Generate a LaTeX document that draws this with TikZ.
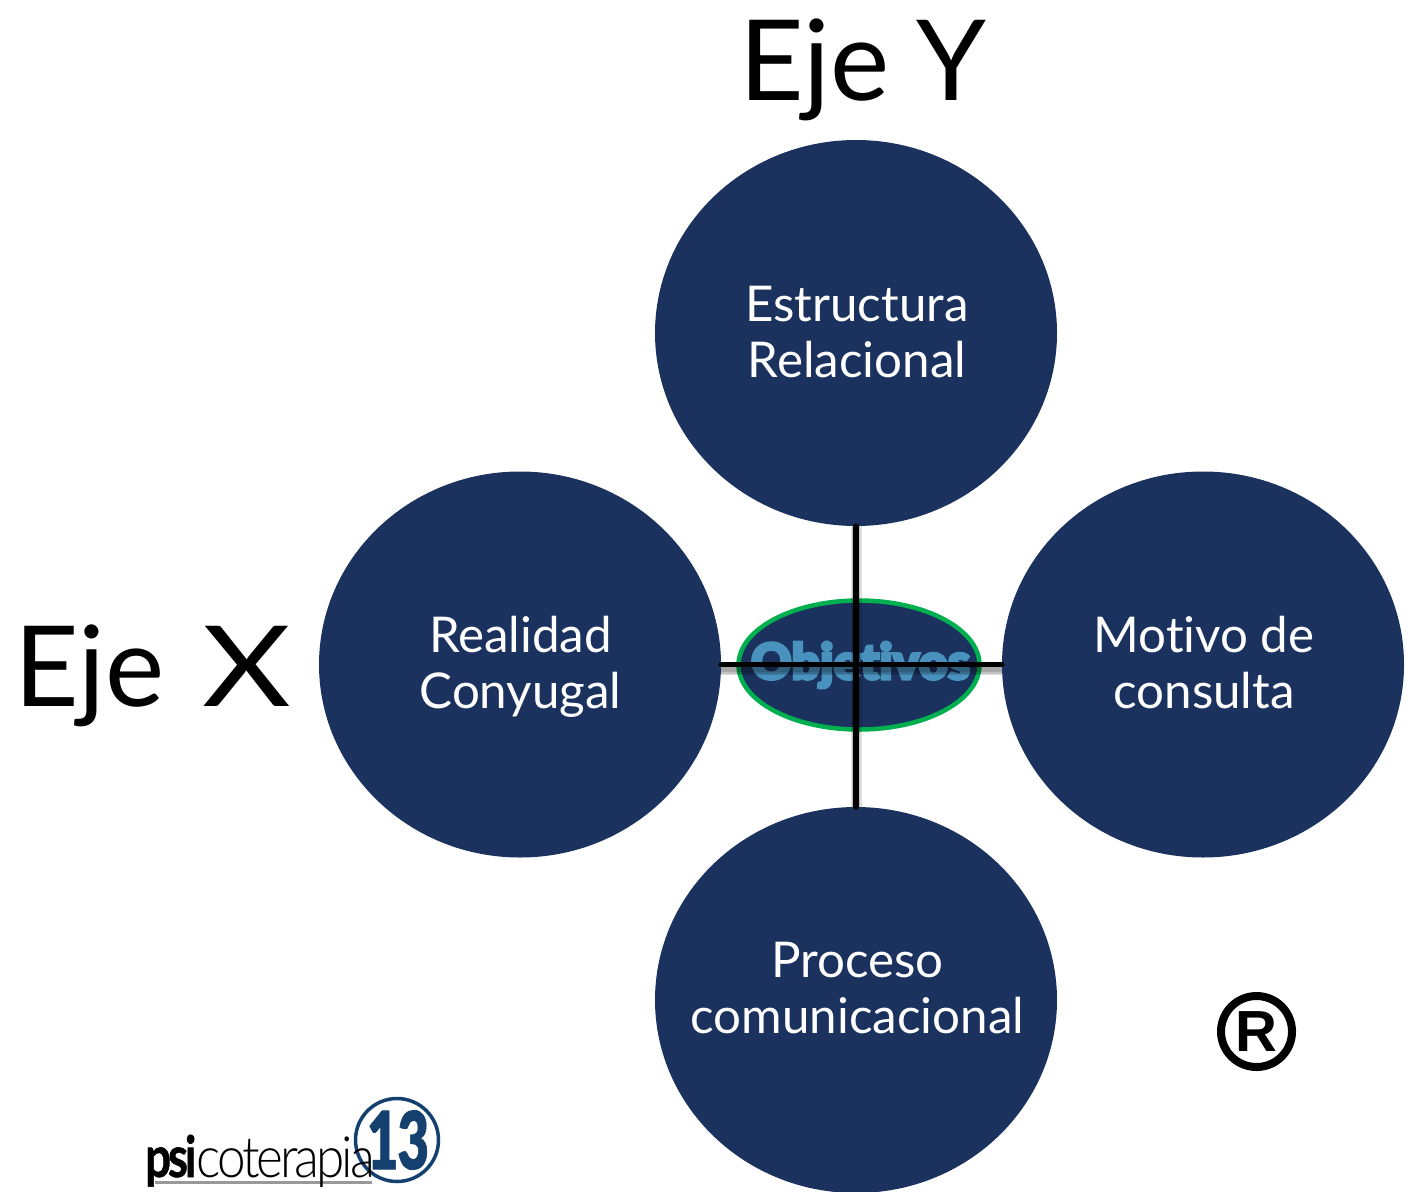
\documentclass[tikz,border=0pt]{standalone}
\usepackage{fontspec}
\usepackage{graphicx}
\usetikzlibrary{shapes.geometric}
\setmainfont{Lato}[Ligatures=NoCommon]
\newfontfamily\objfont[FakeBold=5,Ligatures=NoCommon]{Lato Black}
\newfontfamily\logolight[LetterSpace=-6,Ligatures=NoCommon]{Lato Light}
\newfontfamily\logobold[LetterSpace=-7,FakeBold=1]{Lato Bold}
\newfontfamily\logonum[LetterSpace=-2,FakeBold=1]{Lato Black}
\newfontfamily\regfont{Liberation Sans}
\definecolor{navy}{HTML}{1B325F}
\definecolor{ringgreen}{HTML}{00B050}
\definecolor{objblue}{HTML}{4A92BE}
\definecolor{logoblue}{HTML}{14406F}
\tikzset{
  x=1pt,y=-1pt,
  bigcirc/.style={ellipse,fill=navy,minimum width=402pt,minimum height=386pt,inner sep=0pt},
  circlabel/.style={text=white,align=center,font=\fontsize{49.3}{56}\selectfont,inner sep=0pt},
  axislabel/.style={font=\fontsize{112}{112}\selectfont,inner sep=0pt,anchor=base west},
  axisline/.style={line width=5.5pt,black,line cap=round},
  softshadow/.style={black,opacity=0.13},
}
\begin{document}
\begin{tikzpicture}
\useasboundingbox (0,0) rectangle (1412,1191);
\clip (0,0) rectangle (1412,1191);
\node[bigcirc] (top) at (856,333) {};
\node[bigcirc] (left) at (520,664.5) {};
\node[bigcirc] (right) at (1203,664.5) {};
\node[bigcirc] (bottom) at (856,1000) {};
\node[circlabel] (toptext) at (857,332) {Estructura\\Relacional};
\node[circlabel] (lefttext) at (520.5,667) {Realidad\\Conyugal};
\node[circlabel] (righttext) at (1204,663) {Motivo de\\consulta};
\node[circlabel] (bottomtext) at (857.5,988) {Proceso\\comunicacional};
\node[ellipse,draw=ringgreen,line width=4.5pt,fill=navy,minimum width=241pt,minimum height=129pt,inner sep=0pt] (center) at (859,665) {};
\node[text=objblue,inner sep=0pt,font=\objfont\fontsize{50}{50}\selectfont] (obj) at (860.5,665) {Objetivos};
\foreach \w in {11,8,5}{
  \draw[softshadow,line width=\w pt] ([yshift=-5pt]left.east) -- ([yshift=-5pt]right.west);
}
\foreach \w in {11,8}{
  \draw[softshadow,line width=\w pt] (top.south) -- (bottom.north);
}
\draw[axisline] (left.east) -- (right.west);
\draw[axisline] (top.south) -- (bottom.north);
\node[axislabel] (ejey) at (739,100) {Eje\hspace{-2pt} Y};
\node[axislabel] (ejex) at (14,706) {Eje\hspace{38pt}\scalebox{1.22}[1]{X}};
\node[circle,draw=black,line width=8pt,minimum size=71pt,inner sep=0pt,font=\regfont\bfseries\fontsize{58}{58}\selectfont] (reg) at (1256.5,1031.5) {R};
\node[circle,draw=logoblue,line width=3.5pt,minimum size=83pt,inner sep=0pt] (logoring) at (397,1140) {};
\node[inner sep=0pt,text=logoblue,font=\logonum\fontsize{80}{80}\selectfont] (logonum) at (398,1140) {\scalebox{.68}[1]{13}};
\coordinate (ula) at (155,1182);
\coordinate (ulb) at (372,1182);
\draw[line width=3pt,black!40] (ula) -- (ulb);
\node[anchor=base west,inner sep=0pt,font=\fontsize{57}{57}\selectfont] (logotext) at (145,1177) {\scalebox{.8}[1]{\logobold psi}\scalebox{.9}[1]{\logolight coterapia}};
\end{tikzpicture}
\end{document}
